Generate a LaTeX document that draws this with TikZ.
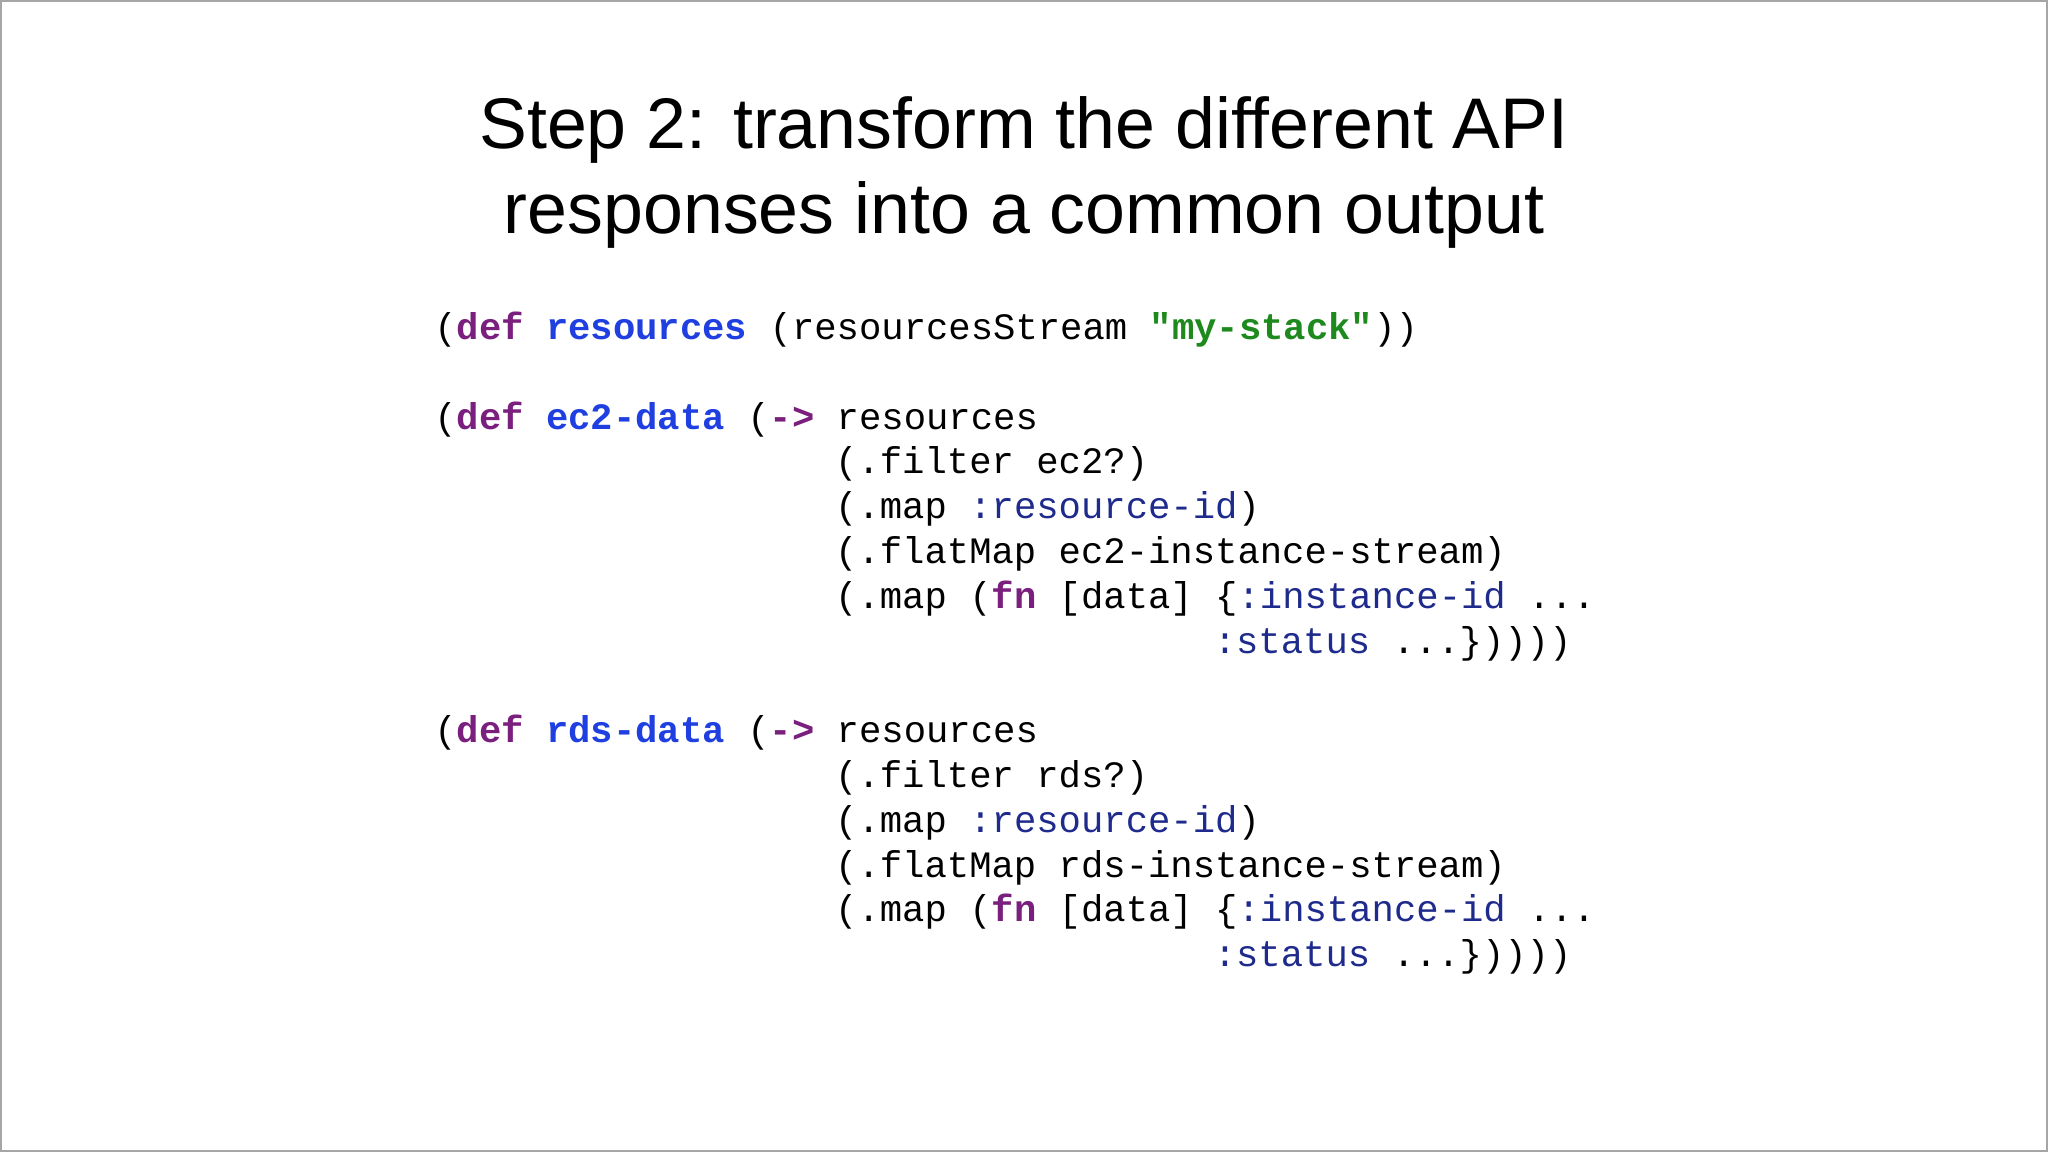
\documentclass[tikz,border=0pt]{standalone}
\usepackage{fontspec}
\setmainfont{Liberation Sans}
\newfontfamily\codefont{Liberation Mono}
\definecolor{kwpurple}{HTML}{7A1F7E}
\definecolor{nmblue}{HTML}{1F3FE0}
\definecolor{strgreen}{HTML}{1E8A1E}
\definecolor{kwnavy}{HTML}{1E2A8C}
\newcommand\kw[1]{\textcolor{kwpurple}{\bfseries #1}}
\newcommand\nm[1]{\textcolor{nmblue}{\bfseries #1}}
\newcommand\str[1]{\textcolor{strgreen}{\bfseries #1}}
\newcommand\kwd[1]{\textcolor{kwnavy}{#1}}
\tikzset{code/.style={inner sep=0pt,anchor=base west,font=\codefont\fontsize{10.6}{12.7}\selectfont},
         title/.style={inner sep=0pt,anchor=base,font=\fontsize{20.4}{25}\selectfont}}
% one code line: row, column, text
\newcommand\cl[3]{\node[code] (l#1c#2) at ({4.336+#2*0.2227},{11.52-(260+34.3*#1)*0.01306}) {#3};}
\begin{document}
\begin{tikzpicture}
  \useasboundingbox (0,0) rectangle (20.48,11.52);
  \draw[black!35,line width=0.6pt] (0.01,0.01) rectangle (20.47,11.51);

  \node[title] (t1) at (10.24,10.03) {Step 2: transform the different API};
  \node[title] (t2) at (10.24,9.18) {responses into a common output};

  \cl{0}{0}{(\kw{def} \nm{resources} (resourcesStream \str{"my-stack"}))}

  \cl{2}{0}{(\kw{def} \nm{ec2-data} (\kw{->} resources}
  \cl{3}{18}{(.filter ec2?)}
  \cl{4}{18}{(.map \kwd{:resource-id})}
  \cl{5}{18}{(.flatMap ec2-instance-stream)}
  \cl{6}{18}{(.map (\kw{fn} [data] \{\kwd{:instance-id} ...}
  \cl{7}{35}{\kwd{:status} ...\}))))}

  \cl{9}{0}{(\kw{def} \nm{rds-data} (\kw{->} resources}
  \cl{10}{18}{(.filter rds?)}
  \cl{11}{18}{(.map \kwd{:resource-id})}
  \cl{12}{18}{(.flatMap rds-instance-stream)}
  \cl{13}{18}{(.map (\kw{fn} [data] \{\kwd{:instance-id} ...}
  \cl{14}{35}{\kwd{:status} ...\}))))}
\end{tikzpicture}
\end{document}
